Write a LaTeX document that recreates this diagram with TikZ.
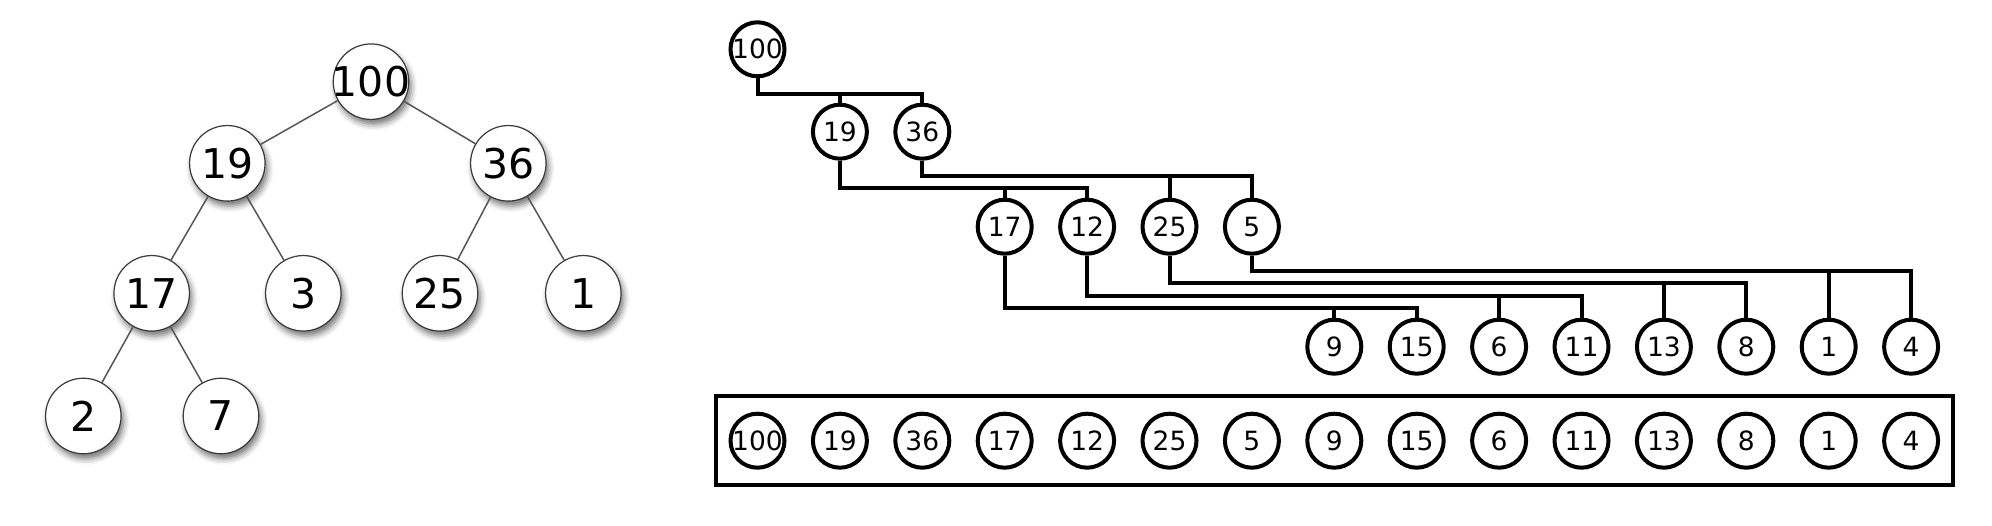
\documentclass[tikz,border=0pt]{standalone}
\usepackage{fontspec}
\setmainfont{DejaVu Sans}
\usetikzlibrary{fit,shadows.blur}
\definecolor{edgegray}{HTML}{555555}
\definecolor{bordergray}{HTML}{3A3A3A}
\tikzset{
  ln/.style={circle, draw=bordergray, line width=1.2pt, fill=white,
    minimum size=75.5pt, inner sep=0pt, font=\fontsize{41}{41}\selectfont,
    blur shadow={shadow xshift=2.5pt, shadow yshift=-5pt,
      shadow blur radius=6pt, shadow opacity=55}},
  ledge/.style={draw=edgegray, line width=1.5pt},
  rn/.style={circle, draw, line width=4pt, minimum size=54pt, inner sep=0pt,
    font=\fontsize{26.5}{26.5}\selectfont},
  br/.style={draw, line width=4pt, line join=miter},
  arrbox/.style={draw, line width=4pt, inner xsep=13pt, inner ysep=15.6pt}
}
\begin{document}
\begin{tikzpicture}[x=1pt,y=-1pt]
\useasboundingbox (0,0) rectangle (1992,526);
% ---------- left tree ----------
\foreach \n/\x/\y in {100/371/81.7, 19/227.3/163.3, 36/508.3/163.3,
  17/151.7/293.3, 3/303.3/293.3, 25/440/293.3, 1/583.3/293.3,
  2/83.3/416, 7/221/416}
  \node[ln] (l\n) at (\x,\y) {\makebox[0pt]{\n}};
\foreach \a/\b in {100/19, 100/36, 19/17, 19/3, 36/25, 36/1, 17/2, 17/7}
  \draw[ledge] (l\a) -- (l\b);
% ---------- right tree ----------
\foreach \v/\i/\y in {100/0/49.3, 19/1/131.7, 36/2/131.7,
  17/3/226.7, 12/4/226.7, 25/5/226.7, 5/6/226.7,
  9/7/346.7, 15/8/346.7, 6/9/346.7, 11/10/346.7,
  13/11/346.7, 8/12/346.7, 1/13/346.7, 4/14/346.7}
  \node[rn] (t\i) at ({757.5+82.4*\i},\y) {\makebox[0pt]{\v}};
\foreach \p/\yb in {0/94, 1/188.3, 2/175.7, 3/308.3, 4/295.7, 5/283.3, 6/271}{
  \pgfmathtruncatemacro\ca{2*\p+1}
  \pgfmathtruncatemacro\cb{2*\p+2}
  \draw[br] (t\p.south) |- (t\cb.north |- 0,\yb) -- (t\cb.north);
  \draw[br] (t\ca.north) -- (t\ca.north |- 0,\yb);
}
% ---------- array ----------
\foreach \v [count=\i from 0] in {100,19,36,17,12,25,5,9,15,6,11,13,8,1,4}
  \node[rn] (a\i) at ({757.5+82.4*\i},440.7) {\makebox[0pt]{\v}};
\node[arrbox, fit=(a0)(a14)] (arr) {};
\end{tikzpicture}
\end{document}
